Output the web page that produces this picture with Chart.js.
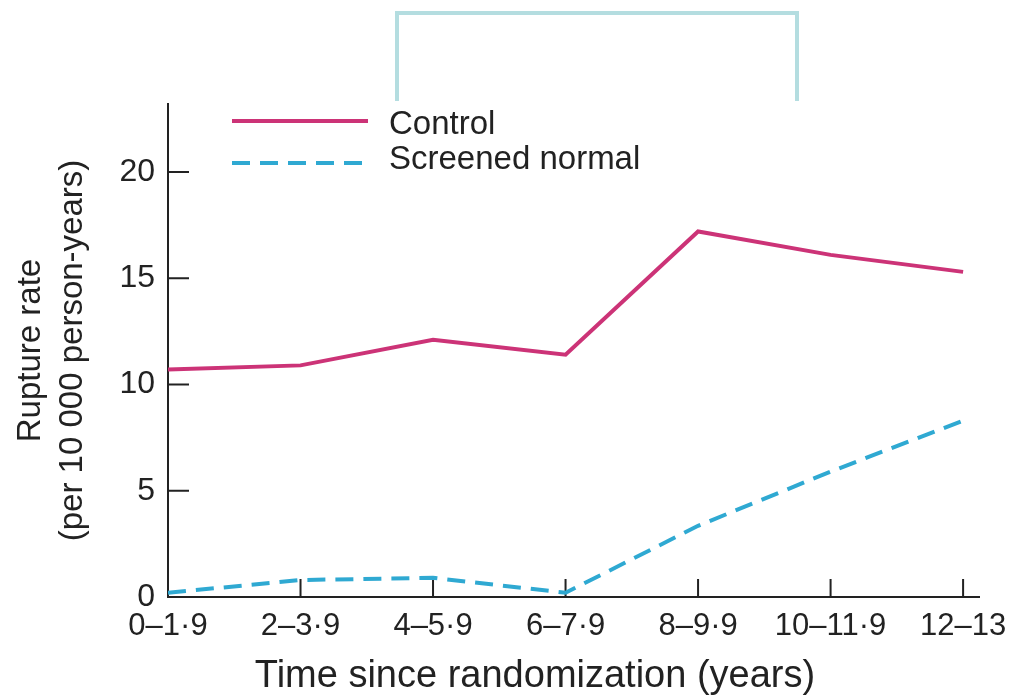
<!DOCTYPE html>
<html>
<head>
<meta charset="utf-8">
<script src="https://cdn.jsdelivr.net/npm/chart.js@4"></script>
<style>
  body { margin: 0; background: #fff; }
  #wrap { width: 1013px; height: 698px; }
</style>
</head>
<body>
<div id="wrap"><canvas id="chart"></canvas></div>
<script>
const periods = ["0–1·9", "2–3·9", "4–5·9", "6–7·9", "8–9·9", "10–11·9", "12–13"];
const control = [10.7, 10.9, 12.1, 11.4, 17.2, 16.1, 15.3];
const screened = [0.2, 0.8, 0.9, 0.2, 3.35, 5.9, 8.3];
const yMax = 23.2;
const xTitle = "Time since randomization (years)";

const FONT = "'Liberation Sans', Arial, sans-serif";
const INK = "#222222";

const toPoints = (values) => values.map((v, i) => ({ x: i, y: v }));

// white page + the pale teal bracket sitting above the plot
const backdrop = {
  id: "backdrop",
  beforeDraw(chart) {
    const ctx = chart.ctx;
    ctx.save();
    ctx.fillStyle = "#ffffff";
    ctx.fillRect(0, 0, chart.width, chart.height);
    ctx.strokeStyle = "#b4dde0";
    ctx.lineWidth = 4;
    ctx.beginPath();
    ctx.moveTo(397, 101);
    ctx.lineTo(397, 13);
    ctx.lineTo(797, 13);
    ctx.lineTo(797, 101);
    ctx.stroke();
    ctx.restore();
  },
};

// tick marks point into the plot, not out of it
const innerTicks = {
  id: "innerTicks",
  beforeDatasetsDraw(chart) {
    const { ctx, scales } = chart;
    const x = scales.x, y = scales.y;
    ctx.save();
    ctx.strokeStyle = INK;
    ctx.lineWidth = 2;
    ctx.beginPath();
    y.ticks.forEach((t) => {
      const py = y.getPixelForValue(t.value);
      ctx.moveTo(x.left, py);
      ctx.lineTo(x.left + 21, py);
    });
    x.ticks.forEach((t) => {
      const px = x.getPixelForValue(t.value);
      ctx.moveTo(px, y.bottom);
      ctx.lineTo(px, y.bottom - 18);
    });
    ctx.stroke();
    ctx.restore();
  },
};

// legend stacked in the top-left corner of the plot, x title set a bit left of centre
const annotations = {
  id: "annotations",
  afterDraw(chart) {
    const ctx = chart.ctx;
    ctx.save();
    ctx.font = "33px " + FONT;
    ctx.textBaseline = "middle";
    chart.data.datasets.forEach((ds, i) => {
      const ly = 121 + i * 42;
      ctx.strokeStyle = ds.borderColor;
      ctx.lineWidth = ds.borderWidth;
      ctx.setLineDash(ds.borderDash || []);
      ctx.beginPath();
      ctx.moveTo(232, ly);
      ctx.lineTo(368, ly);
      ctx.stroke();
      ctx.setLineDash([]);
      ctx.fillStyle = INK;
      ctx.fillText(ds.label, 389, 125 + i * 35);
    });
    ctx.font = "38px " + FONT;
    ctx.textAlign = "center";
    ctx.fillText(xTitle, 535, 677);
    ctx.restore();
  },
};

new Chart(document.getElementById("chart"), {
  type: "line",
  data: {
    datasets: [
      {
        label: "Control",
        data: toPoints(control),
        borderColor: "#cc3377",
        borderWidth: 4,
        pointRadius: 0,
        tension: 0,
      },
      {
        label: "Screened normal",
        data: toPoints(screened),
        borderColor: "#2fa9d2",
        borderWidth: 4,
        borderDash: [18, 10],
        pointRadius: 0,
        tension: 0,
      },
    ],
  },
  options: {
    responsive: true,
    maintainAspectRatio: false,
    animation: false,
    layout: {
      padding: { top: 104, right: 34, left: 0, bottom: 0 },
    },
    plugins: {
      legend: { display: false },
      tooltip: { enabled: false },
    },
    scales: {
      x: {
        type: "linear",
        min: 0,
        max: 6.12,
        afterFit: (scale) => {
          scale.height = 101;
          scale.paddingLeft = 0;
          scale.paddingRight = 0;
        },
        grid: { display: false, drawTicks: false },
        border: { display: true, color: INK, width: 2 },
        ticks: {
          stepSize: 1,
          includeBounds: false,
          autoSkip: false,
          maxRotation: 0,
          padding: 11,
          color: INK,
          font: { size: 31, family: FONT },
          callback: (value) => periods[value] ?? "",
        },
      },
      y: {
        min: 0,
        max: yMax,
        afterFit: (scale) => { scale.width = 168; },
        grid: { display: false, drawTicks: false },
        border: { display: true, color: INK, width: 2 },
        ticks: {
          stepSize: 5,
          includeBounds: false,
          padding: 13,
          color: INK,
          font: { size: 32, family: FONT },
        },
        title: {
          display: true,
          text: ["Rupture rate", "(per 10 000 person-years)"],
          color: INK,
          font: { size: 33, family: FONT, lineHeight: 1.3 },
          padding: { top: 9, bottom: 0 },
        },
      },
    },
  },
  plugins: [backdrop, innerTicks, annotations],
});
</script>
</body>
</html>
